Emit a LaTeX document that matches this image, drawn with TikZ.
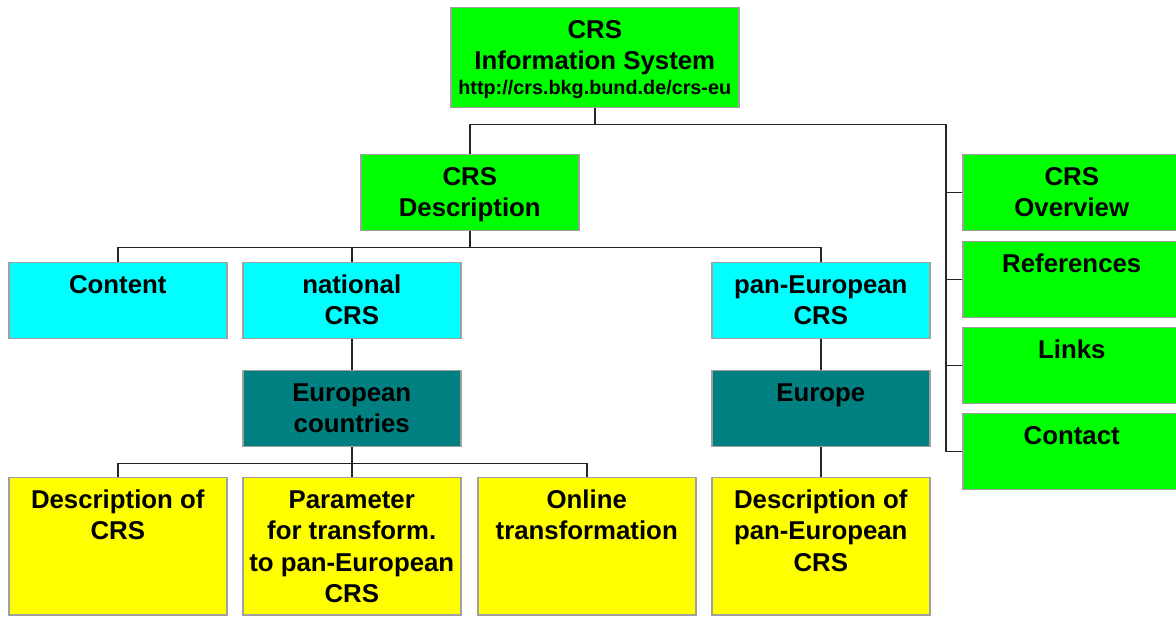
\documentclass[tikz,border=0pt]{standalone}
\usepackage{fontspec}
\setmainfont{Liberation Sans}
\usetikzlibrary{calc}
\definecolor{cgreen}{HTML}{00FF00}
\definecolor{ccyan}{HTML}{00FFFF}
\definecolor{cteal}{HTML}{008080}
\definecolor{cyell}{HTML}{FFFF00}
\definecolor{cborder}{HTML}{A0A0A0}
\newcommand{\bxt}[3]{\parbox[c][#2][t]{#1}{\centering\fontsize{25.8}{31.2}\selectfont\bfseries\rule{0pt}{31pt}#3\par}}
\begin{document}
\begin{tikzpicture}[x=1pt,y=-1pt,
  box/.style={draw=cborder, line width=1.5pt, inner sep=0pt, anchor=north west},
  link/.style={draw=black!85, line width=1.5pt}]
\useasboundingbox (0,0) rectangle (1176,617);
% top
\node[box,fill=cgreen] (top) at (450,7) {\parbox[c][100pt][t]{288pt}{\centering\fontsize{25.8}{30.5}\selectfont\bfseries\rule{0pt}{31pt}CRS\\Information System\\[-5.5pt]{\fontsize{19.8}{25}\selectfont http://crs.bkg.bund.de/crs-eu}\par}};
% level 1
\node[box,fill=cgreen] (desc) at (360,154) {\bxt{218pt}{76pt}{CRS\\Description}};
\node[box,fill=cgreen] (over) at (962,154) {\bxt{218pt}{76pt}{CRS\\Overview}};
\node[box,fill=cgreen] (refs) at (962,241) {\bxt{218pt}{76pt}{References}};
\node[box,fill=cgreen] (links) at (962,327) {\bxt{218pt}{76pt}{Links}};
\node[box,fill=cgreen] (cont) at (962,413) {\bxt{218pt}{76pt}{Contact}};
% level 2
\node[box,fill=ccyan] (content) at (8,262) {\bxt{218pt}{76pt}{Content}};
\node[box,fill=ccyan] (nat) at (242,262) {\bxt{218pt}{76pt}{national\\CRS}};
\node[box,fill=ccyan] (pan) at (711,262) {\bxt{218pt}{76pt}{pan-European\\CRS}};
% level 3
\node[box,fill=cteal] (euc) at (242,370) {\bxt{218pt}{76pt}{European\\countries}};
\node[box,fill=cteal] (eur) at (711,370) {\bxt{218pt}{76pt}{Europe}};
% level 4
\node[box,fill=cyell] (y1) at (8,477) {\bxt{218pt}{137pt}{Description of\\CRS}};
\node[box,fill=cyell] (y2) at (242,477) {\bxt{218pt}{137pt}{Parameter\\for transform.\\to pan-European\\CRS}};
\node[box,fill=cyell] (y3) at (477,477) {\bxt{218pt}{137pt}{Online\\transformation}};
\node[box,fill=cyell] (y4) at (711,477) {\bxt{218pt}{137pt}{Description of\\pan-European\\CRS}};
% connectors
\coordinate (j1) at ($(top.south)+(0,16)$);
\coordinate (rb) at (946,452);
\draw[link] (top.south) -- (j1) -| (desc.north);
\draw[link] (j1) -| (rb);
\foreach \n in {over,refs,links,cont}{\draw[link] (\n.west) -- (\n.west -| rb);}
\coordinate (j2) at ($(desc.south)+(0,16)$);
\draw[link] (desc.south) -- (j2);
\draw[link] (content.north) |- (j2) -| (pan.north);
\draw[link] (nat.north) -- (nat.north |- j2);
\draw[link] (nat.south) -- (euc.north);
\coordinate (j3) at ($(euc.south)+(0,16)$);
\draw[link] (euc.south) -- (y2.north);
\draw[link] (y1.north) |- (j3) -| (y3.north);
\draw[link] (pan.south) -- (eur.north);
\draw[link] (eur.south) -- (y4.north);
\end{tikzpicture}
\end{document}
